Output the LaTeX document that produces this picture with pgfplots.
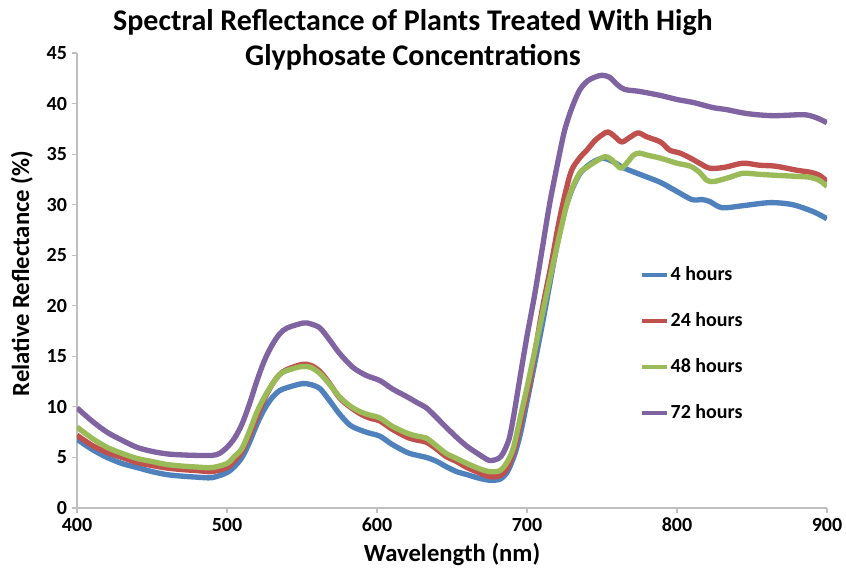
\documentclass[border=0pt]{standalone}
\usepackage{fontspec}
\setmainfont{Carlito}
\usepackage{pgfplots}
\pgfplotsset{compat=1.18}

% Excel 2007 default series colours
\definecolor{xlblue}{HTML}{4F81BD}
\definecolor{xlred}{HTML}{C0504D}
\definecolor{xlgreen}{HTML}{9BBB59}
\definecolor{xlpurple}{HTML}{8064A2}
\definecolor{axgray}{HTML}{BFBFBF}

\begin{document}
\begin{tikzpicture}
\path[use as bounding box] (-57.75pt,-50.25pt) rectangle (576.75pt,381pt);
\begin{axis}[
    at={(0,0)}, anchor=south west,
    scale only axis,
    width=562.5pt, height=341.25pt,
    xmin=400, xmax=900, ymin=0, ymax=45,
    xtick={400,500,...,900},
    ytick={0,5,...,45},
    axis x line*=bottom, axis y line*=left,
    axis line style={axgray, line width=0.8pt},
    tick style={axgray, line width=0.8pt},
    tick align=outside,
    major tick length=4pt,
    /pgf/number format/assume math mode=true,
    ticklabel style={font=\bfseries\fontsize{15}{15}\selectfont, black},
    xlabel={Wavelength (nm)},
    ylabel={Relative Reflectance (\%)},
    label style={font=\bfseries\fontsize{18.5}{18.5}\selectfont},
    xlabel style={at={(axis description cs:0.5,-0.103)}, anchor=center},
    ylabel style={at={(axis description cs:-0.0735,0.515)}, anchor=center},
    title={Spectral Reflectance of Plants Treated With High\\Glyphosate Concentrations},
    title style={at={(axis description cs:0.448,1)}, anchor=center, yshift=3.5pt,
        align=center, font=\bfseries\fontsize{22.5}{26.25}\selectfont},
    legend style={at={(axis description cs:0.745,0.54)}, anchor=north west,
        draw=none, fill=none, row sep=20.5pt,
        font=\bfseries\fontsize{15}{15}\selectfont,
        nodes={inner sep=1pt}},
    legend cell align=left,
    legend image code/.code={\draw[#1, line width=3pt] (0pt,0pt) -- (19pt,0pt);},
    every axis plot/.append style={line width=4pt, line join=round, smooth, tension=0.5},
]
\addplot[xlblue] coordinates {
(400,6.8)(410,5.8)(420,5.0)(430,4.4)(440,4.0)(450,3.6)(460,3.3)(470,3.15)(480,3.05)(490,3.0)
(500,3.5)(505,4.1)(510,5.0)(515,6.5)(520,8.3)(525,9.8)(530,10.9)(535,11.6)(540,11.9)(550,12.3)
(556,12.2)(562,11.8)(568,10.7)(575,9.3)(582,8.2)(589,7.7)(595,7.4)(602,7.1)(610,6.3)(620,5.5)
(627,5.2)(633,5.0)(640,4.6)(646,4.1)(653,3.6)(660,3.3)(668,2.95)(675,2.75)(682,2.85)(687,3.6)
(692,5.4)(696,7.6)(700,10.5)(705,14.2)(710,18)(715,22)(720,26)(725,29.3)(730,31.5)(735,33)
(740,33.8)(745,34.3)(751,34.6)(758,34.2)(765,33.6)(777,32.9)(789,32.2)(800,31.3)(810,30.5)
(817,30.5)(822,30.3)(830,29.7)(844,29.9)(862,30.2)(877,30.0)(891,29.3)(900,28.6)
};
\addlegendentry{4 hours}
\addplot[xlred] coordinates {
(400,7.2)(410,6.2)(420,5.5)(430,5.0)(440,4.5)(450,4.2)(460,3.95)(470,3.8)(480,3.7)(490,3.6)
(500,4.0)(505,4.7)(510,5.6)(515,7.2)(520,9.0)(525,10.8)(530,12.2)(535,13.2)(540,13.7)(550,14.2)
(556,14.1)(562,13.5)(568,12.4)(575,10.9)(582,10.0)(589,9.3)(595,8.9)(602,8.6)(610,7.8)(620,7.0)
(627,6.7)(633,6.5)(640,5.8)(646,5.1)(653,4.6)(660,4.0)(668,3.5)(675,3.1)(682,3.2)(687,4.0)
(692,6.0)(697,9.3)(702,12.6)(710,19.5)(716,24)(722,28.8)(729,33.1)(735,34.6)(740,35.4)(745,36.3)
(750,36.9)(754,37.2)(758,36.8)(763,36.2)(768,36.6)(774,37.1)(780,36.7)(789,36.2)(795,35.4)
(802,35.1)(809,34.6)(815,34.1)(822,33.6)(832,33.7)(844,34.1)(855,33.9)(866,33.8)(880,33.4)
(889,33.2)(895,32.9)(900,32.3)
};
\addlegendentry{24 hours}
\addplot[xlgreen] coordinates {
(400,8.0)(410,6.9)(420,6.0)(430,5.4)(440,4.9)(450,4.6)(460,4.3)(470,4.15)(480,4.05)(490,4.0)
(500,4.4)(505,5.1)(510,5.9)(515,7.6)(520,9.5)(525,11.0)(530,12.2)(535,13.2)(540,13.6)(550,14.0)
(556,13.9)(562,13.3)(568,12.3)(575,11.0)(582,10.1)(589,9.5)(595,9.2)(602,8.9)(610,8.1)(620,7.4)
(627,7.1)(633,6.9)(640,6.1)(646,5.4)(653,4.9)(660,4.4)(668,3.9)(675,3.6)(682,3.7)(687,4.6)
(691,6.0)(696,9.3)(701,12.6)(710,19)(715,22.5)(722,27.2)(728,30.8)(735,33.1)(740,33.7)(745,34.2)
(752,34.75)(756,34.5)(760,33.9)(763,33.6)(767,34.2)(771,34.9)(775,35.1)(780,34.9)(789,34.6)
(800,34.1)(809,33.8)(815,33.2)(820,32.4)(825,32.3)(835,32.7)(844,33.1)(855,33.0)(866,32.9)
(880,32.8)(889,32.7)(895,32.4)(900,31.8)
};
\addlegendentry{48 hours}
\addplot[xlpurple] coordinates {
(400,9.9)(410,8.6)(420,7.5)(430,6.7)(440,6.0)(450,5.6)(460,5.35)(470,5.25)(480,5.2)(490,5.2)
(495,5.4)(500,6.0)(505,6.9)(510,8.3)(515,10.3)(520,12.6)(525,14.6)(530,16.1)(535,17.2)(540,17.8)
(551,18.3)(556,18.2)(562,17.8)(568,16.7)(575,15.3)(584,13.9)(593,13.1)(602,12.6)(610,11.8)
(620,11.0)(627,10.4)(633,9.9)(640,8.9)(646,8.0)(653,7.0)(660,6.1)(668,5.3)(675,4.7)(681,4.9)
(684,5.4)(688,6.8)(691,9.0)(695,12.6)(700,17)(705,21)(710,25.5)(715,30)(720,33.8)(725,37.3)
(730,39.6)(735,41.3)(740,42.2)(745,42.6)(750,42.8)(755,42.6)(760,41.9)(765,41.4)(775,41.2)
(789,40.8)(800,40.4)(811,40.1)(824,39.6)(833,39.4)(847,39.0)(864,38.8)(884,38.9)(891,38.7)
(896,38.4)(900,38.1)
};
\addlegendentry{72 hours}
\end{axis}
\end{tikzpicture}
\end{document}
